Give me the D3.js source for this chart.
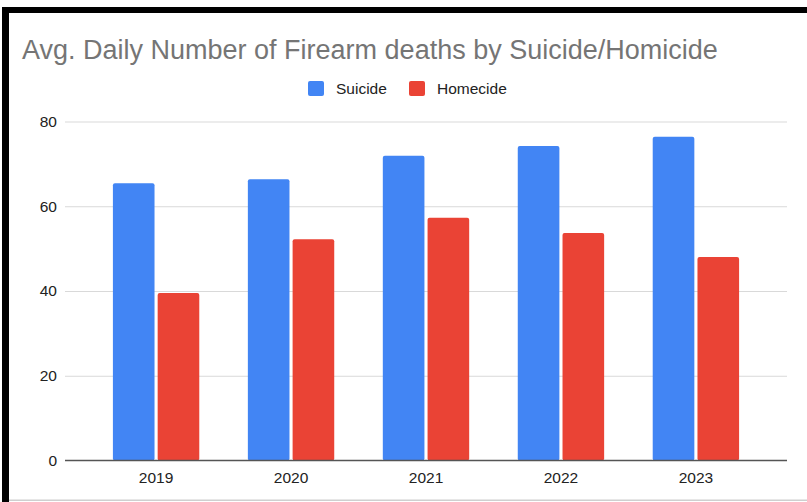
<!DOCTYPE html>
<html lang="en">
  <head>
    <meta charset="utf-8">
    <title>Firearm deaths</title>
    <script src="https://d3js.org/d3.v7.min.js"></script>
    <style>
      body { margin: 0; background: #fff; }
      text { font-family: "Liberation Sans", Arial, sans-serif; }
    </style>
  </head>
  <body>
    <script type="text/javascript">

      var w = 807;
      var h = 502;

      var years = ["2019", "2020", "2021", "2022", "2023"];
      var series = ["Suicide", "Homecide"];
      var suicide = [65.4, 66.4, 71.9, 74.2, 76.4];
      var homecide = [39.5, 52.2, 57.3, 53.7, 48.0];
      var yTicks = [0, 20, 40, 60, 80];
      var colors = ["#4285f4", "#ea4335"];

      var dataset = years.map(function(y, i) {
        return {year: y, values: [suicide[i], homecide[i]]};
      });

      var svg = d3.select("body")
          .append("svg")
          .attr("width", w)
          .attr("height", h);

      // frame of the screenshot
      svg.append("rect").attr("x", 2).attr("y", 7).attr("width", w - 2).attr("height", 6).attr("fill", "#000");
      svg.append("rect").attr("x", 2).attr("y", 7).attr("width", 7).attr("height", h - 7).attr("fill", "#000");
      svg.append("rect").attr("x", 9).attr("y", 499.5).attr("width", w - 9).attr("height", 1.5).attr("fill", "#cfcfcf");

      svg.append("text")
        .attr("x", 22)
        .attr("y", 59)
        .attr("font-size", 27)
        .attr("fill", "#757575")
        .text("Avg. Daily Number of Firearm deaths by Suicide/Homicide");

      var xscale = d3.scaleBand()
            .domain(years)
            .range([65, 787])
            .paddingInner(0.36)
            .paddingOuter(0.355);

      var xsub = d3.scaleBand()
            .domain(series)
            .range([0, xscale.bandwidth()])
            .paddingInner(0.07);

      var yscale = d3.scaleLinear()
            .domain([0, 80])
            .range([460.5, 121.5]);

      // gridlines
      var y_axis = d3.axisLeft(yscale)
            .tickValues(yTicks)
            .tickSize(-722)
            .tickPadding(8);

      var gy = svg.append("g")
        .attr("transform", "translate(65,0)")
        .call(y_axis);
      gy.select(".domain").remove();
      gy.selectAll(".tick line").attr("stroke", "#d9d9d9");
      gy.selectAll(".tick text")
        .attr("font-size", 15.5)
        .attr("fill", "#222")
        .attr("font-family", "Liberation Sans, Arial, sans-serif");
      gy.selectAll(".tick").filter(d => d === 0).select("line").remove();

      var groups = svg.append("g")
        .selectAll("g")
        .data(dataset)
        .enter()
        .append("g")
        .attr("transform", d => "translate(" + xscale(d.year) + ",0)");

      groups.selectAll("rect")
        .data(d => d.values.map((v, i) => ({key: series[i], value: v, i: i})))
        .enter()
        .append("rect")
        .attr("x", d => xsub(d.key))
        .attr("y", d => yscale(d.value))
        .attr("width", xsub.bandwidth())
        .attr("height", d => yscale(0) - yscale(d.value))
        .attr("rx", 2)
        .attr("fill", d => colors[d.i]);

      var x_axis = d3.axisBottom(xscale)
            .tickSize(0)
            .tickPadding(11);

      var gx = svg.append("g")
        .attr("transform", "translate(0,460.5)")
        .call(x_axis);
      gx.select(".domain").remove();
      gx.selectAll(".tick text")
        .attr("font-size", 15.5)
        .attr("fill", "#222")
        .attr("font-family", "Liberation Sans, Arial, sans-serif");

      svg.append("line")
        .attr("x1", 65).attr("x2", 787)
        .attr("y1", yscale(0)).attr("y2", yscale(0))
        .attr("stroke", "#555")
        .attr("stroke-width", 1.5);

      // legend
      var legend = svg.append("g");
      var legendX = [308, 409];
      series.forEach(function(s, i) {
        legend.append("rect")
          .attr("x", legendX[i]).attr("y", 81)
          .attr("width", 16).attr("height", 15)
          .attr("rx", 2)
          .attr("fill", colors[i]);
        legend.append("text")
          .attr("x", legendX[i] + 28).attr("y", 94)
          .attr("font-size", 15.5)
          .attr("fill", "#222")
          .text(s);
      });

    </script>
  </body>
</html>
